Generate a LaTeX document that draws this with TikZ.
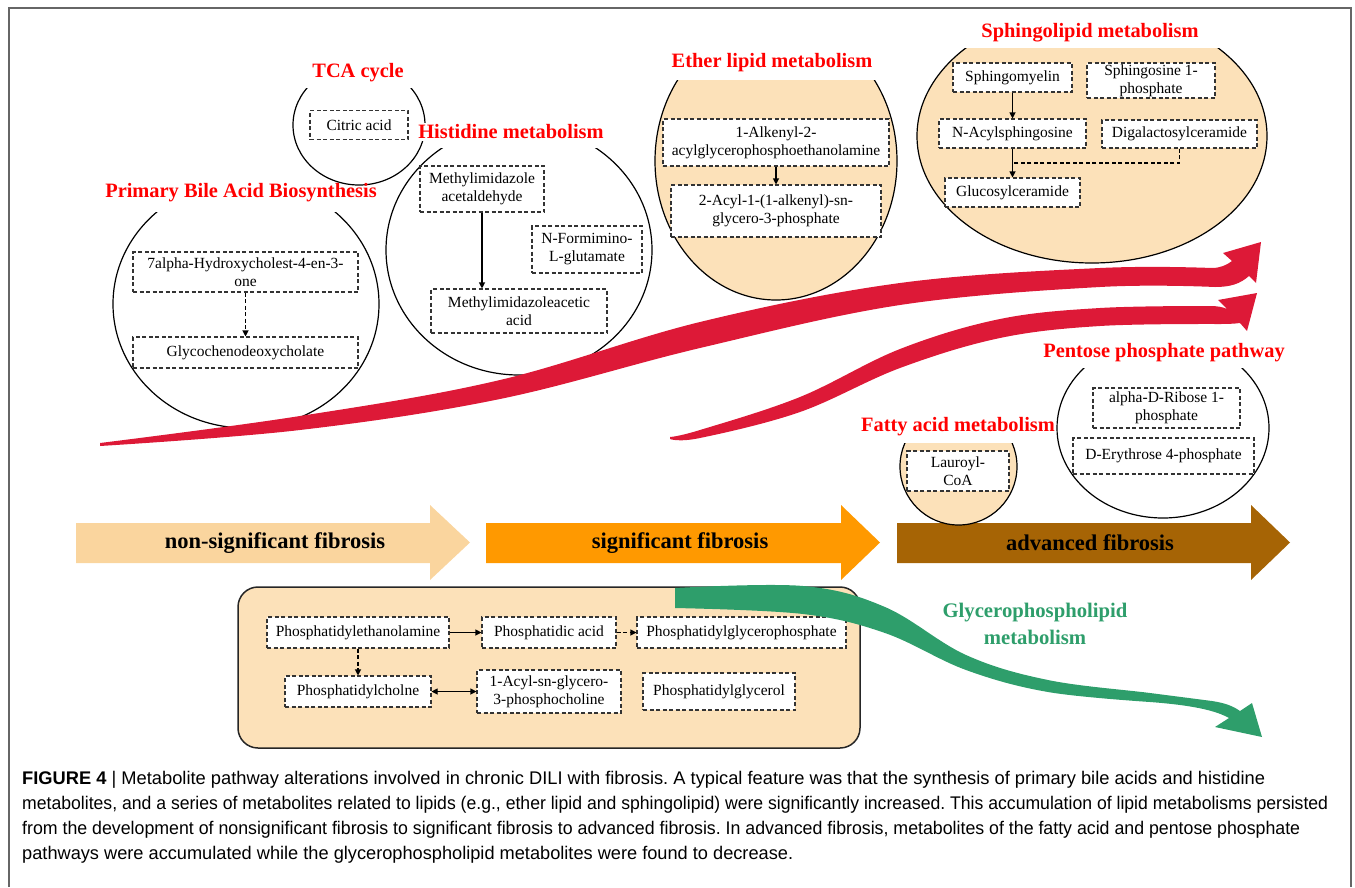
\documentclass[tikz,border=0pt]{standalone}
\usepackage{graphicx}
\usepackage{fontspec}
\setmainfont{Liberation Serif}
\newfontfamily\capfont{Liberation Sans}
\usetikzlibrary{arrows.meta}
\definecolor{peach}{RGB}{252,225,185}
\definecolor{stageA}{RGB}{250,213,158}
\definecolor{stageB}{RGB}{255,153,0}
\definecolor{stageC}{RGB}{166,100,5}
\definecolor{redarr}{RGB}{221,25,55}
\definecolor{grn}{RGB}{46,158,107}
\definecolor{ttlred}{RGB}{255,0,0}
\frenchspacing
\newcommand{\fitline}[2]{\resizebox{#1}{\height}{#2}}
\begin{document}
\begin{tikzpicture}[x=1pt,y=-1pt,
  mbox/.style={draw=black!80, dash pattern=on 4pt off 2.5pt, line width=1.1pt, fill=white, align=center, inner sep=1pt, font=\fontsize{15.5}{18}\selectfont},
  ttl/.style={text=ttlred, font=\bfseries\fontsize{20.4}{23}\selectfont, inner sep=2pt},
  ring/.style={draw=black, line width=1.2pt},
  conn/.style={draw=black, line width=1.1pt, -{Triangle[length=6pt,width=6pt]}},
  dconn/.style={conn, dash pattern=on 4pt off 2.5pt},
  stage/.style={font=\bfseries\fontsize{22.5}{25}\selectfont, inner sep=0pt},
  captxt/.style={font=\capfont\fontsize{18.3}{21}\selectfont, inner sep=0pt, anchor=base west},
]
\useasboundingbox (0,0) rectangle (1355,887);
% frame
\draw[black!60, line width=1.3pt] (9,887) -- (9,8) -- (1351,8) -- (1351,887);

% stage arrows
\fill[stageA] (76,523) -- (430,523) -- (430,505) -- (470,542.5) -- (430,580) -- (430,563) -- (76,563) -- cycle;
\fill[stageB] (486,523) -- (841,523) -- (841,505) -- (880,542.5) -- (841,580) -- (841,563) -- (486,563) -- cycle;
\fill[stageC] (897,523) -- (1251,523) -- (1251,505) -- (1290,542.5) -- (1251,580) -- (1251,563) -- (897,563) -- cycle;
\node[stage] (st1) at (275,543) {non-significant fibrosis};
\node[stage] (st2) at (680,543) {significant fibrosis};
\node[stage] (st3) at (1090,543) {advanced fibrosis};

% TCA cycle
\begin{scope}
\clip (0,88) rectangle (1355,887);
\draw[ring] (359,125) ellipse [x radius=66pt, y radius=60pt];
\end{scope}
\node[ttl] (tTCA) at (358,73) {TCA cycle};
\node[mbox, minimum width=98pt, minimum height=29pt] (ca) at (359,125) {Citric acid};

% Primary bile acid
\begin{scope}
\clip (0,212) rectangle (1355,887);
\draw[ring] (246,304) ellipse [x radius=133pt, y radius=124pt];
\end{scope}
\node[ttl] (tBile) at (241,193) {Primary Bile Acid Biosynthesis};
\node[mbox, minimum width=225pt, minimum height=40pt] (b1) at (245.5,272) {7alpha-Hydroxycholest-4-en-3-\\one};
\node[mbox, minimum width=225pt, minimum height=31pt] (b2) at (245.5,352.5) {Glycochenodeoxycholate};
\draw[dconn] (b1.south) -- (b2.north);

% Histidine
\begin{scope}
\clip (0,148) rectangle (1355,887);
\draw[ring] (519,250) ellipse [x radius=133pt, y radius=125pt];
\end{scope}
\node[ttl, fill=white] (tHis) at (511,132) {Histidine metabolism};
\node[mbox, minimum width=124pt, minimum height=46pt] (h1) at (482,189) {Methylimidazole\\acetaldehyde};
\node[mbox, minimum width=110pt, minimum height=47pt] (h2) at (587,249.5) {N-Formimino-\\L-glutamate};
\node[mbox, minimum width=176pt, minimum height=44pt] (h3) at (519,311) {Methylimidazoleacetic\\acid};
\draw[conn] (h1.south) -- (h1.south |- h3.north);

% Ether lipid
\begin{scope}
\clip (0,80) rectangle (1355,887);
\draw[ring, fill=peach] (776,161) ellipse [x radius=121pt, y radius=139pt];
\end{scope}
\node[ttl] (tEth) at (772,63) {Ether lipid metabolism};
\node[mbox, minimum width=226pt, minimum height=47pt] (e1) at (776,142.5) {1-Alkenyl-2-\\acylglycerophosphoethanolamine};
\node[mbox, minimum width=210pt, minimum height=52pt] (e2) at (776,211) {2-Acyl-1-(1-alkenyl)-sn-\\glycero-3-phosphate};
\draw[conn] (e1.south) -- (e2.north);

% Sphingolipid
\begin{scope}
\clip (0,48) rectangle (1355,887);
\draw[ring, fill=peach] (1092,136) ellipse [x radius=175pt, y radius=127pt];
\end{scope}
\node[ttl] (tSph) at (1090,33) {Sphingolipid metabolism};
\node[mbox, minimum width=119pt, minimum height=29pt] (s1) at (1012.5,77.5) {Sphingomyelin};
\node[mbox, minimum width=128pt, minimum height=35pt] (s2) at (1151,80.5) {Sphingosine 1-\\phosphate};
\node[mbox, minimum width=147pt, minimum height=29pt] (s3) at (1012.5,133.5) {N-Acylsphingosine};
\node[mbox, minimum width=155pt, minimum height=28pt] (s4) at (1179.5,134) {Digalactosylceramide};
\node[mbox, minimum width=135pt, minimum height=29pt] (s5) at (1012.5,192.5) {Glucosylceramide};
\coordinate (sj) at (1012.5,163);
\draw[conn] (s1.south) -- (s3.north);
\draw[conn] (s3.south) -- (s5.north);
\draw[black, line width=1.1pt, dash pattern=on 4pt off 2.5pt] (s4.south) |- (sj);

% Fatty acid
\begin{scope}
\clip (0,443) rectangle (1355,887);
\draw[ring, fill=peach] (958.5,466.5) circle [radius=58.5pt];
\end{scope}
\node[ttl] (tFat) at (958,427) {Fatty acid metabolism};
\node[mbox, minimum width=102pt, minimum height=40pt] (f1) at (958,471) {Lauroyl-\\CoA};

% Pentose phosphate
\begin{scope}
\clip (0,368) rectangle (1355,887);
\draw[ring] (1163,428) ellipse [x radius=106pt, y radius=90pt];
\end{scope}
\node[ttl] (tPen) at (1164,353) {Pentose phosphate pathway};
\node[mbox, minimum width=147pt, minimum height=40pt] (p1) at (1166.5,408) {alpha-D-Ribose 1-\\phosphate};
\node[mbox, minimum width=181pt, minimum height=36pt] (p2) at (1163.5,456) {D-Erythrose 4-phosphate};

% red arrows
\fill[redarr] plot[smooth, tension=0.6] coordinates {(100,443) (300,416) (500,380) (700,322) (900,283) (1100,268) (1212,268)}
  .. controls (1220,268) and (1227,265) .. (1232,261) -- (1223,253) -- (1261,242) -- (1256,283) -- (1249,276)
  .. controls (1240,284) and (1230,287) .. (1215,287)
  -- plot[smooth, tension=0.6] coordinates {(1215,287) (1100,287) (900,305) (700,348) (500,399) (300,430) (100,446)} -- cycle;
\fill[redarr] plot[smooth, tension=0.6] coordinates {(670,437) (700,430) (800,397) (900,349) (1000,319) (1100,308) (1210,306)}
  .. controls (1217,306) and (1223,307) .. (1227,309) -- (1218,300) -- (1257,293) -- (1247,331) -- (1240,323)
  .. controls (1233,324) and (1225,324) .. (1217,324)
  -- plot[smooth, tension=0.6] coordinates {(1217,324) (1100,326) (1000,338) (900,368) (800,412) (700,438) (670,439)} -- cycle;

% Glycerophospholipid box
\draw[black!85, line width=1.5pt, fill=peach, rounded corners=20pt] (238,587) rectangle (860,748);
\node[mbox, minimum width=182pt, minimum height=31pt] (g1) at (358,632.5) {Phosphatidylethanolamine};
\node[mbox, minimum width=134pt, minimum height=31pt] (g2) at (549,632.5) {Phosphatidic acid};
\node[mbox, minimum width=209pt, minimum height=31pt] (g3) at (741.5,632.5) {Phosphatidylglycerophosphate};
\node[mbox, minimum width=146pt, minimum height=31pt] (g4) at (358,691.5) {Phosphatidylcholne};
\node[mbox, minimum width=144pt, minimum height=43pt] (g5) at (549,691.5) {1-Acyl-sn-glycero-\\3-phosphocholine};
\node[mbox, minimum width=152pt, minimum height=37pt] (g6) at (719,691.5) {Phosphatidylglycerol};
\draw[conn] (g1.east) -- (g2.west);
\draw[dconn] (g2.east) -- (g3.west);
\draw[dconn] (g1.south) -- (g4.north);
\draw[conn, {Triangle[length=6pt,width=6pt]}-{Triangle[length=6pt,width=6pt]}] (g4.east) -- (g5.west);

% green arrow
\fill[grn] plot[smooth, tension=0.6] coordinates {(675,588) (803,586) (885,607) (966,655) (1048,680) (1150,693) (1212,701)}
  .. controls (1225,703) and (1233,706) .. (1240,711) -- (1252,703) -- (1262,737) -- (1215,727) -- (1229,718)
  .. controls (1215,710) and (1190,705) .. (1150,702)
  -- plot[smooth, tension=0.6] coordinates {(1150,702) (1048,692) (966,670) (885,633) (803,614) (675,608)} -- cycle;
\node[font=\bfseries\fontsize{20.7}{27}\selectfont, text=grn, align=center] (tGly) at (1035,624) {Glycerophospholipid\\metabolism};

% caption
\node[captxt] (c1) at (22,784) {\fitline{1243pt}{\textbf{FIGURE 4} | Metabolite pathway alterations involved in chronic DILI with fibrosis. A typical feature was that the synthesis of primary bile acids and histidine}};
\node[captxt] (c2) at (22,809) {\fitline{1306pt}{metabolites, and a series of metabolites related to lipids (e.g., ether lipid and sphingolipid) were significantly increased. This accumulation of lipid metabolisms persisted}};
\node[captxt] (c3) at (22,834) {\fitline{1278pt}{from the development of nonsignificant fibrosis to significant fibrosis to advanced fibrosis. In advanced fibrosis, metabolites of the fatty acid and pentose phosphate}};
\node[captxt] (c4) at (22,859) {\fitline{771pt}{pathways were accumulated while the glycerophospholipid metabolites were found to decrease.}};
\end{tikzpicture}
\end{document}
